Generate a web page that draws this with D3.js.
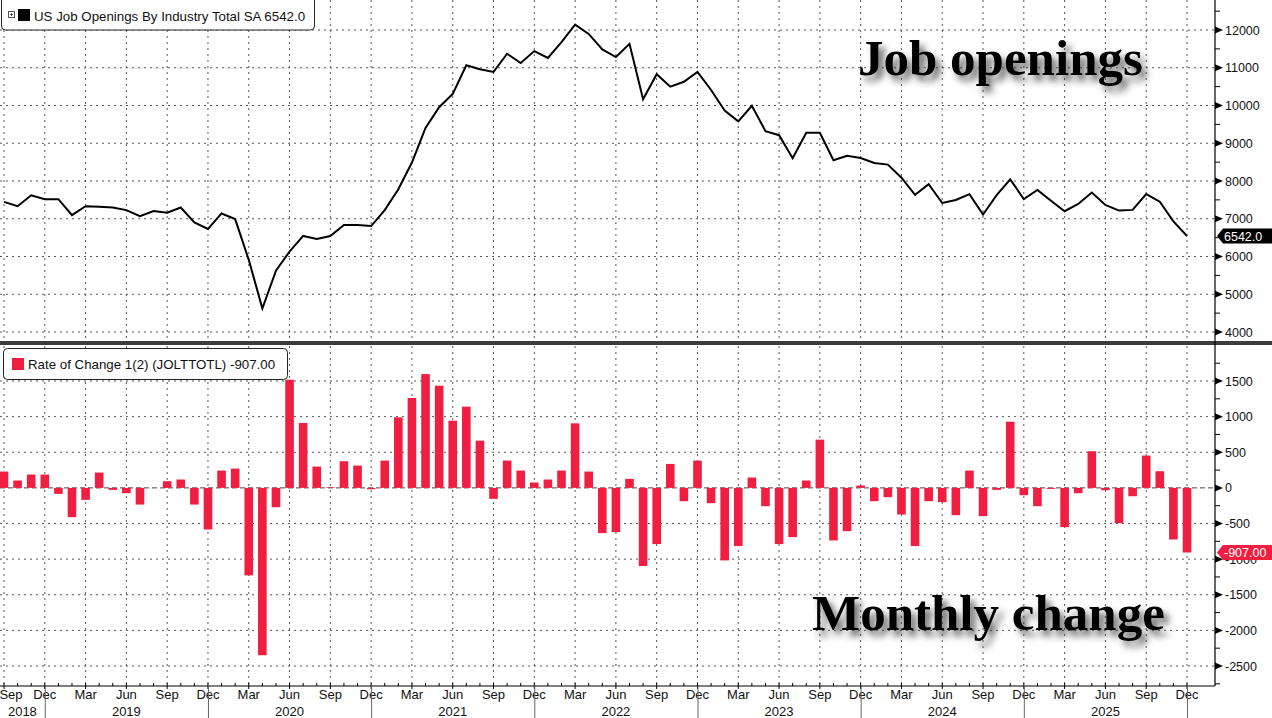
<!DOCTYPE html>
<html><head><meta charset="utf-8">
<script src="https://cdn.jsdelivr.net/npm/d3@7"></script>
<style>
body{margin:0;background:#fff;}
svg{display:block;font-family:"Liberation Sans",Arial,sans-serif;}
</style></head><body>
<svg id="c" width="1272" height="718"></svg>
<script>
// ---- data (monthly, Sep 2018 .. Dec 2025) ----
const firstMonth = "2018-09";
const openings = [7447,7333,7623,7518,7518,7096,7333,7316,7298,7228,
  7070,7202,7158,7298,6904,6728,7140,6991,5912,4623,
  5623,6132,6544,6465,6544,6833,6833,6807,7228,7780,
  8489,9406,9956,10306,11066,10961,10891,11371,11127,11441,
  11258,11677,12140,11895,11485,11284,11633,10166,10830,10498,
  10629,10891,10410,9869,9581,9991,9319,9214,8603,9278,
  9278,8548,8670,8609,8478,8435,8087,7635,7913,7417,
  7496,7652,7113,7626,8043,7522,7765,7478,7200,7391,
  7696,7365,7217,7235,7652,7452,6930,6542];
const changes = [229,103,187,187,-84,-411,-168,215,-28,-75,
  -234,0,93,117,-234,-584,243,271,-1228,-2349,
  -271,1518,911,299,9,374,313,-19,383,990,
  1261,1597,1434,943,1140,663,-154,383,243,75,
  117,243,906,229,-635,-621,126,-1097,-789,336,
  -187,383,-215,-1018,-817,145,-257,-789,-691,103,
  677,-738,-607,33,-187,-131,-374,-817,-187,-201,
  -383,243,-397,-28,929,-103,-257,-14,-551,-75,
  514,-33,-495,-117,453,234,-724,-907];
const topTicks = [4000,5000,6000,7000,8000,9000,10000,11000,12000];
const botTicks = [-2500,-2000,-1500,-1000,-500,0,500,1000,1500];
const quarterNames = {8:"Sep",11:"Dec",2:"Mar",5:"Jun"};
const yearLabels = ["2018","2019","2020","2021","2022","2023","2024","2025"];
const topLegend = "US Job Openings By Industry Total SA 6542.0";
const botLegend = "Rate of Change 1(2) (JOLTTOTL) -907.00";
const lastLine = "6542.0", lastBar = "-907.00";

const svg = d3.select("#c");
const W = 1272, H = 718, axisX = 1215;
const dates = openings.map((_, i) => d3.timeMonth.offset(d3.timeParse("%Y-%m")(firstMonth), i));
const x = d3.scaleLinear().domain([0, openings.length - 1]).range([4, 1187]);
const yT = d3.scaleLinear().domain([4000, 12000]).range([332, 30]);
const yB = d3.scaleLinear().domain([-2500, 1500]).range([666, 381]);
const topP = [0, 341], botP = [346, 686];
const red = "#f01e40";

const defs = svg.append("defs");
const f = defs.append("filter").attr("id","sh").attr("x","-10%").attr("y","-30%").attr("width","130%").attr("height","180%");
f.append("feDropShadow").attr("dx",5).attr("dy",6).attr("stdDeviation",3.5).attr("flood-color","#333").attr("flood-opacity",0.75);

// grid
const gridC = "#555";
const quarterIdx = d3.range(openings.length).filter(i => quarterNames[dates[i].getMonth()] !== undefined);
[topP, botP].forEach(p => {
  svg.append("g").selectAll("line").data(quarterIdx).join("line")
    .attr("x1", i => x(i)).attr("x2", i => x(i)).attr("y1", p[0]).attr("y2", p[1])
    .attr("stroke", gridC).attr("stroke-width", 1).attr("stroke-dasharray", "2,4");
});
svg.append("g").selectAll("line").data(topTicks).join("line")
  .attr("x1", 0).attr("x2", axisX).attr("y1", d => yT(d)).attr("y2", d => yT(d))
  .attr("stroke", gridC).attr("stroke-dasharray", "2,4");
svg.append("g").selectAll("line").data(botTicks).join("line")
  .attr("x1", 0).attr("x2", axisX).attr("y1", d => yB(d)).attr("y2", d => yB(d))
  .attr("stroke", d => d === 0 ? "#444" : gridC).attr("stroke-dasharray", d => d === 0 ? "5,3" : "2,4");

// bars
const bw = 8.6;
svg.append("g").selectAll("rect").data(changes).join("rect")
  .attr("x", (d, i) => x(i) - bw / 2).attr("width", bw)
  .attr("y", d => yB(Math.max(0, d))).attr("height", d => Math.abs(yB(d) - yB(0)))
  .attr("fill", red);

// line
svg.append("path").datum(openings)
  .attr("d", d3.line().x((d, i) => x(i)).y(d => yT(d)))
  .attr("fill", "none").attr("stroke", "#000").attr("stroke-width", 2).attr("stroke-linejoin", "miter");

// panel separator
svg.append("rect").attr("x", 0).attr("y", 341).attr("width", W).attr("height", 4).attr("fill", "#3c3c3c");

// right axis
svg.append("line").attr("x1", axisX).attr("x2", axisX).attr("y1", 0).attr("y2", botP[1]).attr("stroke", "#000").attr("stroke-width", 1.2);
function rightAxis(scale, ticks, minors) {
  const g = svg.append("g");
  g.selectAll("path").data(ticks).join("path")
    .attr("d", d => `M${axisX},${scale(d) - 3.5}L${axisX + 8},${scale(d)}L${axisX},${scale(d) + 3.5}Z`).attr("fill", "#000");
  g.selectAll("line").data(minors).join("line")
    .attr("x1", axisX).attr("x2", axisX + 5).attr("y1", d => scale(d)).attr("y2", d => scale(d)).attr("stroke", "#000");
  g.selectAll("text").data(ticks).join("text")
    .attr("x", axisX + 10).attr("y", d => scale(d) + 4.5).attr("font-size", 12.5).attr("fill", "#111").text(d => d);
}
rightAxis(yT, topTicks, [4500,5500,6500,7500,8500,9500,10500,11500,12500]);
rightAxis(yB, botTicks, [-2750,-2250,-1750,-1250,-750,-250,250,750,1250,1750]);

// last value tags
function tag(cy, fill, label) {
  svg.append("path").attr("d", `M${axisX + 2},${cy}L${axisX + 8},${cy - 7.5}L${W},${cy - 7.5}L${W},${cy + 7.5}L${axisX + 8},${cy + 7.5}Z`).attr("fill", fill);
  svg.append("text").attr("x", axisX + 9).attr("y", cy + 4.5).attr("font-size", 12.5).attr("fill", "#fff").text(label);
}
tag(yT(openings[openings.length - 1]), "#000", lastLine);
tag(yB(changes[changes.length - 1]), red, lastBar);

// x axis
const xa = svg.append("g");
xa.append("line").attr("x1", 0).attr("x2", axisX).attr("y1", botP[1]).attr("y2", botP[1]).attr("stroke", "#000").attr("stroke-width", 1.2);
xa.selectAll("line.m").data(d3.range(openings.length)).join("line").attr("class","m")
  .attr("x1", i => x(i)).attr("x2", i => x(i)).attr("y1", botP[1] - 3).attr("y2", botP[1]).attr("stroke", "#000");
xa.selectAll("line.q").data(quarterIdx).join("line").attr("class","q")
  .attr("x1", i => x(i)).attr("x2", i => x(i)).attr("y1", botP[1]).attr("y2", botP[1] + 3).attr("stroke", "#000");
xa.selectAll("text.q").data(quarterIdx).join("text").attr("class","q")
  .attr("x", i => Math.max(x(i), 11)).attr("y", 699).attr("text-anchor", "middle").attr("font-size", 13)
  .attr("fill", "#111").text(i => quarterNames[dates[i].getMonth()]);
const decIdx = quarterIdx.filter(i => dates[i].getMonth() === 11);
xa.selectAll("line.y").data(decIdx).join("line").attr("class","y")
  .attr("x1", i => x(i) + 0.5).attr("x2", i => x(i) + 0.5).attr("y1", botP[1]).attr("y2", H).attr("stroke", "#666");
const bounds = [0, ...decIdx.map(i => x(i))];
xa.selectAll("text.y").data(yearLabels).join("text").attr("class","y")
  .attr("x", (d, k) => (bounds[k] + bounds[k + 1]) / 2).attr("y", 716).attr("text-anchor", "middle")
  .attr("font-size", 13).attr("fill", "#111").text(d => d);

// legends
function legend(x0, y0, w, h, swatch, label) {
  const g = svg.append("g");
  g.append("rect").attr("x", x0).attr("y", y0).attr("width", w).attr("height", h).attr("rx", 4)
    .attr("fill", "#fff").attr("stroke", "#222").attr("stroke-width", 1);
  return g;
}
const l1 = legend(1.5, -4, 313, 34);
l1.append("rect").attr("x", 8.5).attr("y", 11.5).attr("width", 6).attr("height", 6).attr("fill", "none").attr("stroke", "#555");
l1.append("path").attr("d", "M10,14.5h3M11.5,13v3").attr("stroke", "#555");
l1.append("rect").attr("x", 18).attr("y", 9).attr("width", 12).attr("height", 12).attr("fill", "#000");
l1.append("text").attr("x", 34).attr("y", 21).attr("font-size", 13.3).attr("fill", "#111").text(topLegend);

const l2 = legend(3.5, 348.5, 284, 31);
l2.append("rect").attr("x", 12).attr("y", 358).attr("width", 12).attr("height", 12).attr("fill", red);
l2.append("text").attr("x", 28).attr("y", 369).attr("font-size", 13.3).attr("fill", "#111").text(botLegend);

// annotations
svg.append("text").attr("x", 858).attr("y", 75).attr("font-family", "'Liberation Serif','Times New Roman',serif")
  .attr("font-weight", "bold").attr("font-size", 51).attr("fill", "#000").attr("filter", "url(#sh)").text("Job openings");
svg.append("text").attr("x", 812).attr("y", 630).attr("font-family", "'Liberation Serif','Times New Roman',serif")
  .attr("font-weight", "bold").attr("font-size", 51).attr("fill", "#000").attr("filter", "url(#sh)").text("Monthly change");
</script>
</body></html>
